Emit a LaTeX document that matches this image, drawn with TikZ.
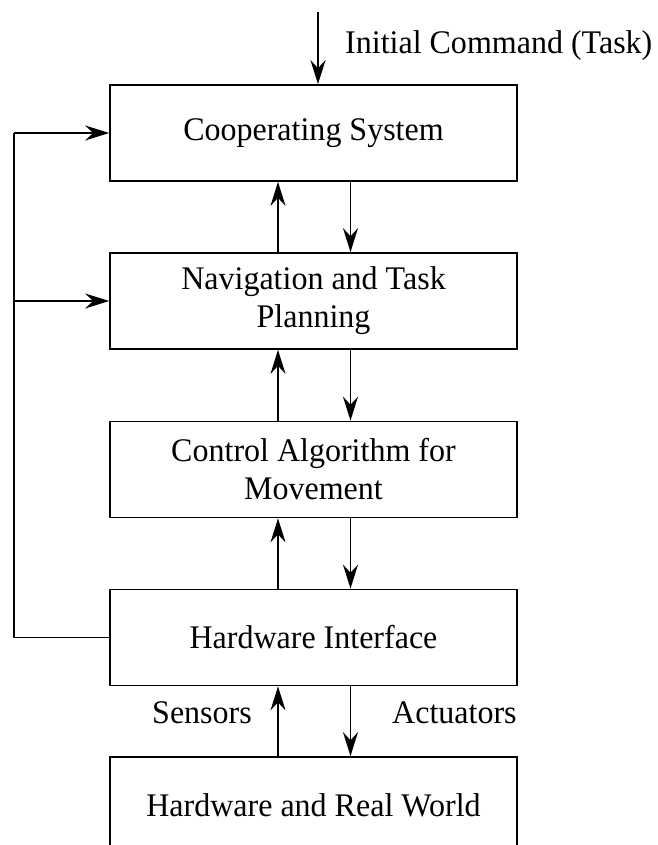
\documentclass[tikz,border=0pt]{standalone}
\usepackage{fontspec}
\setmainfont[FakeStretch=0.97]{Liberation Serif}
\usetikzlibrary{arrows.meta}
\begin{document}
\begin{tikzpicture}[x=1pt,y=-1pt,
  blk/.style={draw,line width=1.7pt,minimum width=407pt,minimum height=96pt,inner sep=0pt,align=center,font=\fontsize{33}{38}\selectfont},
  lbl/.style={font=\fontsize{33}{38}\selectfont,inner sep=0pt},
  arr/.style={line width=1.7pt,-{Stealth[length=24pt,width=15pt,inset=8pt]}},
  ln/.style={line width=1.7pt}]
\useasboundingbox (0,0) rectangle (657,845);
\clip (0,0) rectangle (657,845);
\node[blk] (coop) at (313.5,133) {Cooperating System};
\node[blk] (nav) at (313.5,301) {Navigation and Task\\Planning};
\node[blk] (ctrl) at (313.5,469.5) {Control Algorithm for\\Movement};
\node[blk] (hi) at (313.5,637.5) {Hardware Interface};
\node[blk] (hrw) at (313.5,805) {Hardware and Real World};
\coordinate (cmd) at (318,12);
\draw[arr] (cmd) -- (cmd |- coop.north);
\node[lbl,anchor=west] (cmdl) at (345,46) {Initial Command (Task)};
\foreach \lo/\up in {nav/coop,ctrl/nav,hi/ctrl,hrw/hi}{
  \draw[arr] ([xshift=-35.5pt]\lo.north) -- ([xshift=-35.5pt]\up.south);
  \draw[arr] ([xshift=37pt]\up.south) -- ([xshift=37pt]\lo.north);
}
\node[lbl,anchor=east] (sens) at (252,713) {Sensors};
\node[lbl,anchor=west] (act) at (392,713) {Actuators};
\coordinate (fb) at (14,637.5);
\draw[ln] (hi.west) -- (fb) -- (fb |- coop.west);
\draw[arr] (fb |- coop.west) -- (coop.west);
\draw[arr] (fb |- nav.west) -- (nav.west);
\end{tikzpicture}
\end{document}
